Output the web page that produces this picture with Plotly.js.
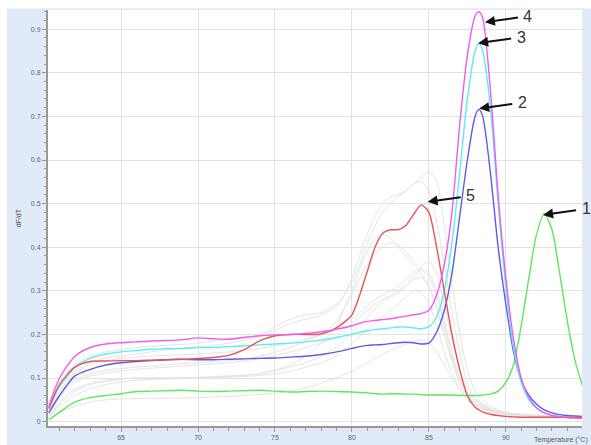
<!DOCTYPE html>
<html>
<head>
<meta charset="utf-8">
<script src="https://cdn.plot.ly/plotly-3.0.1.min.js"></script>
<style>
html,body{margin:0;padding:0;background:#ffffff;}
#chart{width:591px;height:445px;}
</style>
</head>
<body>
<div id="chart"></div>
<script>
// Temperature grid for the labelled (coloured) melt curves, °C
const temps = [60.3,61,62,63,64,65,66,67,68,69,70,71,72,73,74,75,76,77,78,79,80,
  80.5,81,81.5,82,82.5,83,83.5,84,84.5,85,85.5,86,86.5,87,87.5,88,88.25,88.5,
  89,89.5,90,90.5,91,91.5,92,92.5,93,93.5,94,94.5,95];

// dF/dT values of the labelled curves
const curve1Green = [0.004,0.022,0.045,0.055,0.06,0.064,0.069,0.07,0.071,0.072,0.07,0.069,0.07,0.071,0.072,0.07,0.068,0.069,0.07,0.069,0.068,
  0.067,0.066,0.064,0.063,0.064,0.064,0.063,0.063,0.062,0.061,0.061,0.061,0.061,0.06,0.06,0.06,0.06,0.061,
  0.063,0.07,0.09,0.13,0.22,0.33,0.43,0.477,0.44,0.34,0.23,0.14,0.08];
const curve2Blue = [0.02,0.06,0.105,0.12,0.13,0.135,0.138,0.14,0.142,0.143,0.142,0.142,0.143,0.144,0.145,0.146,0.148,0.15,0.154,0.16,0.168,
  0.172,0.175,0.176,0.177,0.179,0.181,0.182,0.181,0.178,0.18,0.205,0.255,0.34,0.47,0.6,0.7,0.716,0.7,
  0.57,0.4,0.27,0.16,0.095,0.06,0.04,0.027,0.02,0.016,0.014,0.013,0.012];
const curve3Cyan = [0.03,0.08,0.125,0.145,0.155,0.16,0.163,0.166,0.167,0.168,0.17,0.17,0.172,0.174,0.176,0.178,0.18,0.183,0.187,0.193,0.2,
  0.205,0.209,0.211,0.213,0.215,0.217,0.217,0.215,0.213,0.218,0.24,0.3,0.41,0.57,0.74,0.85,0.868,0.85,
  0.72,0.5,0.31,0.17,0.09,0.05,0.03,0.02,0.015,0.012,0.01,0.009,0.008];
const curve4Magenta = [0.035,0.1,0.15,0.17,0.178,0.181,0.183,0.185,0.186,0.188,0.192,0.19,0.189,0.193,0.197,0.199,0.2,0.202,0.206,0.212,0.22,
  0.226,0.23,0.232,0.234,0.236,0.239,0.242,0.245,0.248,0.255,0.29,0.36,0.48,0.68,0.84,0.93,0.94,0.925,
  0.76,0.52,0.33,0.19,0.1,0.055,0.032,0.02,0.014,0.011,0.009,0.008,0.007];
const curve5Red = [0.03,0.085,0.125,0.138,0.139,0.14,0.14,0.141,0.142,0.143,0.145,0.147,0.152,0.165,0.185,0.197,0.2,0.2,0.201,0.215,0.245,
  0.29,0.345,0.4,0.432,0.44,0.44,0.45,0.475,0.497,0.48,0.4,0.3,0.2,0.12,0.06,0.033,0.027,0.022,
  0.017,0.014,0.012,0.011,0.01,0.01,0.01,0.01,0.01,0.01,0.01,0.01,0.01];

// Temperature grid for the unlabelled grey curves
const grayTemps = [60.3,61,62,63,64,66,68,70,72,74,76,77,78,79,79.5,80,80.5,81,81.5,82,82.5,
  83,83.5,84,84.5,85,85.5,86,86.5,87,87.5,88,89,90,92,95];
const gray1 = [0.03,0.09,0.13,0.15,0.16,0.17,0.175,0.18,0.19,0.2,0.235,0.245,0.25,0.27,0.29,0.32,0.36,0.41,0.45,0.48,0.5,0.515,0.53,0.545,0.56,0.573,0.55,0.45,0.32,0.2,0.12,0.07,0.035,0.022,0.015,0.012];
const gray2 = [0.025,0.08,0.115,0.135,0.145,0.155,0.165,0.17,0.18,0.195,0.225,0.235,0.245,0.265,0.29,0.33,0.38,0.43,0.47,0.5,0.515,0.52,0.53,0.545,0.55,0.53,0.46,0.36,0.25,0.16,0.09,0.055,0.03,0.02,0.014,0.011];
const gray3 = [0.01,0.045,0.075,0.088,0.095,0.1,0.1,0.102,0.105,0.11,0.13,0.15,0.18,0.22,0.26,0.3,0.35,0.39,0.42,0.43,0.42,0.4,0.38,0.36,0.34,0.31,0.26,0.2,0.14,0.09,0.06,0.04,0.025,0.018,0.013,0.01];
const gray4 = [0.02,0.06,0.095,0.11,0.118,0.125,0.13,0.135,0.14,0.15,0.17,0.185,0.2,0.23,0.26,0.29,0.33,0.36,0.385,0.4,0.41,0.405,0.39,0.37,0.35,0.33,0.29,0.22,0.15,0.1,0.065,0.045,0.028,0.02,0.014,0.011];
const gray5 = [0.02,0.07,0.11,0.13,0.14,0.148,0.152,0.155,0.16,0.168,0.18,0.19,0.2,0.215,0.225,0.235,0.25,0.265,0.28,0.29,0.3,0.31,0.325,0.34,0.355,0.367,0.34,0.27,0.19,0.12,0.075,0.05,0.03,0.02,0.014,0.011];
const gray6 = [0.015,0.055,0.09,0.105,0.112,0.12,0.125,0.13,0.135,0.145,0.16,0.17,0.18,0.195,0.21,0.225,0.24,0.255,0.27,0.28,0.29,0.3,0.315,0.33,0.35,0.34,0.3,0.23,0.16,0.1,0.065,0.045,0.028,0.02,0.014,0.011];
const gray7 = [0.01,0.04,0.07,0.085,0.092,0.1,0.1,0.1,0.103,0.11,0.125,0.135,0.15,0.17,0.185,0.2,0.22,0.24,0.26,0.275,0.285,0.295,0.31,0.325,0.33,0.31,0.26,0.2,0.14,0.09,0.06,0.04,0.025,0.018,0.013,0.01];
const gray8 = [0.01,0.035,0.06,0.075,0.085,0.095,0.098,0.1,0.102,0.106,0.115,0.125,0.135,0.15,0.165,0.18,0.195,0.21,0.225,0.24,0.255,0.27,0.285,0.3,0.295,0.27,0.22,0.16,0.11,0.075,0.05,0.035,0.022,0.016,0.012,0.01];
const gray9 = [0.005,0.02,0.035,0.045,0.05,0.053,0.054,0.055,0.058,0.062,0.07,0.078,0.088,0.1,0.108,0.115,0.125,0.135,0.145,0.155,0.163,0.17,0.178,0.184,0.187,0.18,0.16,0.13,0.1,0.075,0.055,0.04,0.025,0.018,0.013,0.01];

// Peak labels and the peak each arrow points to
const peakLabels = ['1','2','3','4','5'];
const peakTemps  = [92.42, 88.27, 88.2, 88.64, 84.92];
const peakValues = [0.474, 0.718, 0.868, 0.916, 0.504];

const grays = [gray1,gray2,gray3,gray4,gray5,gray6,gray7,gray8,gray9];
const traces = [];
grays.forEach(g => traces.push({
  x: grayTemps, y: g, type: 'scatter', mode: 'lines',
  line: {color: '#e4e4e4', width: 1, shape: 'spline', smoothing: 0.8},
  hoverinfo: 'skip'
}));
const colored = [
  [curve1Green, '#5fe85f'],
  [curve2Blue, '#5c5ce6'],
  [curve3Cyan, '#5ceeee'],
  [curve5Red, '#e85454'],
  [curve4Magenta, '#f05cf0']
];
colored.forEach(([v, c]) => traces.push({
  x: temps, y: v, type: 'scatter', mode: 'lines',
  line: {color: c, width: 1.4, shape: 'spline', smoothing: 0.7},
  hoverinfo: 'skip'
}));

const annotations = peakLabels.map((lab, i) => ({
  x: peakTemps[i], y: peakValues[i], xref: 'x', yref: 'y',
  text: lab, showarrow: true, arrowhead: 2, arrowsize: 1, arrowwidth: 2,
  arrowcolor: '#111', ax: 43, ay: -6, standoff: 0, startstandoff: 4,
  font: {family: 'Liberation Sans, Arial, sans-serif', size: 16, color: '#333'}
}));
annotations.push({
  xref: 'paper', yref: 'paper', x: -0.066, y: 0.50, text: 'dF/dT',
  textangle: -90, showarrow: false,
  font: {family: 'Liberation Sans, Arial, sans-serif', size: 7, color: '#555'}
});
annotations.push({
  xref: 'paper', yref: 'paper', x: 1.014, y: -0.0455, xanchor: 'right', yanchor: 'bottom',
  text: 'Temperature (°C)', showarrow: false, borderpad: 0,
  font: {family: 'Liberation Sans, Arial, sans-serif', size: 7, color: '#555'}
});

const tickFont = {family: 'Liberation Sans, Arial, sans-serif', size: 7, color: '#666'};
const layout = {
  width: 591, height: 445,
  margin: {l: 48, r: 9, t: 10, b: 19, pad: 0},
  paper_bgcolor: '#e1eaf7',
  plot_bgcolor: '#ffffff',
  showlegend: false,
  xaxis: {
    range: [60.25, 94.95], tickmode: 'linear', tick0: 65, dtick: 5,
    showgrid: true, gridcolor: '#e2e2e2', gridwidth: 1,
    showline: true, linecolor: '#999', linewidth: 1.5,
    ticks: 'outside', ticklen: 4, tickcolor: '#999',
    minor: {dtick: 1, ticks: 'outside', ticklen: 3, tickcolor: '#999', showgrid: false},
    tickfont: tickFont, zeroline: false
  },
  yaxis: {
    range: [-0.01, 0.944], tickmode: 'linear', tick0: 0, dtick: 0.1,
    showgrid: true, gridcolor: '#e2e2e2', gridwidth: 1,
    showline: true, linecolor: '#999', linewidth: 2,
    ticks: 'outside', ticklen: 4, tickcolor: '#999',
    minor: {dtick: 0.02, ticks: 'outside', ticklen: 2, tickcolor: '#999', showgrid: false},
    tickfont: tickFont, zeroline: false
  },
  annotations: annotations,
  shapes: [
    {type: 'rect', xref: 'paper', yref: 'paper', layer: 'above',
     x0: -0.09, x1: 1.02, y0: 1.0045, y1: 1.03, fillcolor: '#ffffff', line: {width: 0}},
    {type: 'rect', xref: 'paper', yref: 'paper', layer: 'above',
     x0: -0.09, x1: -0.077, y0: -0.05, y1: 1.03, fillcolor: '#ffffff', line: {width: 0}}
  ]
};

Plotly.newPlot('chart', traces, layout, {displayModeBar: false, staticPlot: true});
</script>
</body>
</html>
